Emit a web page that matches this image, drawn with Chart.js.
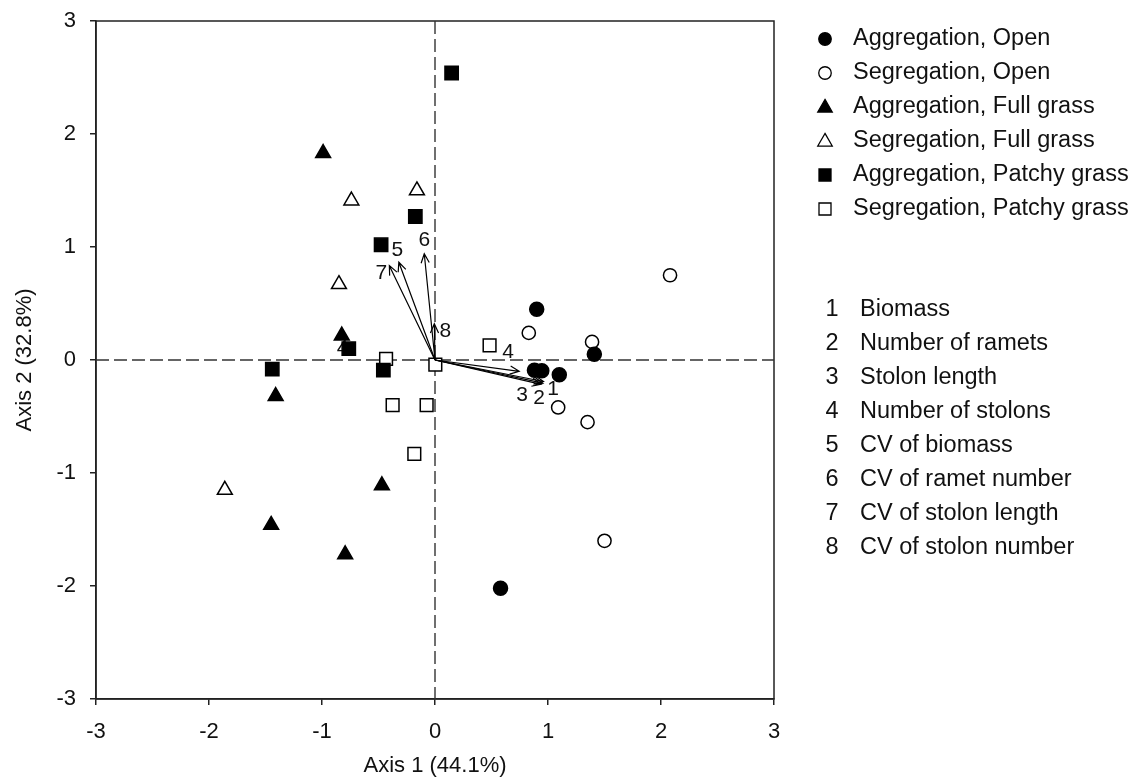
<!DOCTYPE html>
<html><head><meta charset="utf-8">
<script src="https://cdn.jsdelivr.net/npm/chart.js@4/dist/chart.umd.min.js"></script>
<style>html,body{margin:0;padding:0;background:#fff;} #wrap{width:1135px;height:779px;position:relative;}</style>
</head><body><div id="wrap"><canvas id="c"></canvas></div>
<script>
// ---- data ----
const xTicks = [-3, -2, -1, 0, 1, 2, 3];
const yTicks = [-3, -2, -1, 0, 1, 2, 3];
const xTitle = 'Axis 1 (44.1%)';
const yTitle = 'Axis 2 (32.8%)';
const seriesNames = ['Aggregation, Open', 'Segregation, Open', 'Aggregation, Full grass',
  'Segregation, Full grass', 'Aggregation, Patchy grass', 'Segregation, Patchy grass'];
const aggOpen = [[0.90, 0.45], [1.41, 0.05], [0.88, -0.09], [0.945, -0.095], [1.10, -0.13], [0.58, -2.02]];
const segOpen = [[2.08, 0.75], [0.83, 0.24], [1.39, 0.16], [1.09, -0.42], [1.35, -0.55], [1.50, -1.60]];
const aggFull = [[-0.99, 1.83], [-0.825, 0.215], [-1.41, -0.32], [-0.47, -1.11], [-1.45, -1.46], [-0.795, -1.72]];
const segFull = [[-0.74, 1.41], [-0.16, 1.50], [-0.85, 0.67], [-1.86, -1.15]];
const aggPatchy = [[0.147, 2.54], [-0.174, 1.27], [-0.477, 1.02], [-0.763, 0.10], [-1.44, -0.08], [-0.457, -0.09]];
const segPatchy = [[-0.433, 0.01], [0.003, -0.04], [-0.375, -0.40], [-0.074, -0.40], [-0.183, -0.83], [0.483, 0.13]];
const variableNums = ['1', '2', '3', '4', '5', '6', '7', '8'];
const variableNames = ['Biomass', 'Number of ramets', 'Stolon length', 'Number of stolons',
  'CV of biomass', 'CV of ramet number', 'CV of stolon length', 'CV of stolon number'];
const loadingX = [0.96, 0.955, 0.94, 0.745, -0.32, -0.095, -0.404, -0.006];
const loadingY = [-0.19, -0.205, -0.215, -0.10, 0.865, 0.94, 0.835, 0.32];
const loadingLabelX = [1.045, 0.921, 0.771, 0.647, -0.333, -0.095, -0.474, 0.091];
const loadingLabelY = [-0.257, -0.336, -0.310, 0.071, 0.973, 1.062, 0.770, 0.257];
const strayLabel = ['4', -0.818, 0.106];

// ---- styles ----
const FONT = "Arial, 'Liberation Sans', sans-serif";
const INK = '#111';
const markerStyles = [
  {style: 'circle', r: 7, fill: '#000'},
  {style: 'circle', r: 6.6, fill: '#fff'},
  {style: 'triangle', r: 8.6, fill: '#000'},
  {style: 'triangle', r: 8.6, fill: '#fff'},
  {style: 'rect', r: 9.4, fill: '#000'},
  {style: 'rect', r: 9.0, fill: '#fff'}
];
const seriesData = [aggOpen, segOpen, aggFull, segFull, aggPatchy, segPatchy];

const datasets = seriesData.map((arr, i) => ({
  label: seriesNames[i],
  data: arr.map(p => ({x: p[0], y: p[1]})),
  pointStyle: markerStyles[i].style,
  pointRadius: markerStyles[i].r,
  pointHoverRadius: markerStyles[i].r,
  backgroundColor: markerStyles[i].fill,
  borderColor: '#000',
  pointBorderWidth: 1.5,
  showLine: false
}));

function drawMarker(ctx, style, x, y, size, fill) {
  ctx.save();
  ctx.beginPath();
  if (style === 'circle') {
    ctx.arc(x, y, size / 2, 0, Math.PI * 2);
  } else if (style === 'triangle') {
    const h = size * 0.87;
    ctx.moveTo(x, y - h * 0.6);
    ctx.lineTo(x + size / 2, y + h * 0.4);
    ctx.lineTo(x - size / 2, y + h * 0.4);
    ctx.closePath();
  } else {
    ctx.rect(x - size / 2, y - size / 2, size, size);
  }
  ctx.fillStyle = fill;
  ctx.fill();
  ctx.lineWidth = 1.3;
  ctx.strokeStyle = '#000';
  ctx.stroke();
  ctx.restore();
}

const decor = {
  id: 'decor',
  beforeDatasetsDraw(chart) {
    const {ctx, chartArea: a, scales: {x, y}} = chart;
    ctx.save();
    ctx.strokeStyle = '#222';
    ctx.lineWidth = 1.5;
    ctx.strokeRect(a.left, a.top, a.right - a.left, a.bottom - a.top);
    ctx.setLineDash([13, 5]);
    ctx.strokeStyle = '#333';
    ctx.lineWidth = 1.4;
    const x0 = x.getPixelForValue(0), y0 = y.getPixelForValue(0);
    ctx.beginPath();
    ctx.moveTo(x0, a.top); ctx.lineTo(x0, a.bottom);
    ctx.moveTo(a.left, y0); ctx.lineTo(a.right, y0);
    ctx.stroke();
    ctx.setLineDash([]);
    ctx.fillStyle = INK;
    ctx.font = '21px ' + FONT;
    ctx.textAlign = 'center';
    ctx.textBaseline = 'middle';
    ctx.fillText(strayLabel[0], x.getPixelForValue(strayLabel[1]), y.getPixelForValue(strayLabel[2]));
    ctx.restore();
  },
  afterDatasetsDraw(chart) {
    const {ctx, scales: {x, y}} = chart;
    ctx.save();
    const ox = x.getPixelForValue(0), oy = y.getPixelForValue(0);
    ctx.strokeStyle = '#000';
    ctx.lineWidth = 1.2;
    for (let i = 0; i < loadingX.length; i++) {
      const tx = x.getPixelForValue(loadingX[i]), ty = y.getPixelForValue(loadingY[i]);
      const ang = Math.atan2(ty - oy, tx - ox);
      const hl = 10, ha = 0.42;
      ctx.beginPath();
      ctx.moveTo(ox, oy); ctx.lineTo(tx, ty);
      ctx.moveTo(tx - hl * Math.cos(ang - ha), ty - hl * Math.sin(ang - ha));
      ctx.lineTo(tx, ty);
      ctx.lineTo(tx - hl * Math.cos(ang + ha), ty - hl * Math.sin(ang + ha));
      ctx.stroke();
    }
    ctx.fillStyle = INK;
    ctx.font = '21px ' + FONT;
    ctx.textAlign = 'center';
    ctx.textBaseline = 'middle';
    for (let i = 0; i < variableNums.length; i++) {
      ctx.fillText(variableNums[i], x.getPixelForValue(loadingLabelX[i]), y.getPixelForValue(loadingLabelY[i]));
    }
    ctx.textAlign = 'left';
    ctx.font = '23.5px ' + FONT;
    const legSizes = [12.5, 12.5, 14.5, 14.5, 12, 12];
    for (let i = 0; i < seriesNames.length; i++) {
      const ly = 39 + i * 34;
      drawMarker(ctx, markerStyles[i].style, 825, ly, legSizes[i], markerStyles[i].fill);
      ctx.fillStyle = INK;
      ctx.fillText(seriesNames[i], 853, ly);
    }
    for (let i = 0; i < variableNames.length; i++) {
      const ly = 310 + i * 34;
      ctx.textAlign = 'center';
      ctx.fillText(variableNums[i], 832, ly);
      ctx.textAlign = 'left';
      ctx.fillText(variableNames[i], 860, ly);
    }
    ctx.restore();
  }
};

new Chart(document.getElementById('c'), {
  type: 'scatter',
  data: {datasets},
  options: {
    responsive: true,
    maintainAspectRatio: false,
    animation: false,
    events: [],
    layout: {padding: {left: 0, right: 361, top: 21, bottom: 0}},
    plugins: {legend: {display: false}, tooltip: {enabled: false}},
    scales: {
      x: {
        type: 'linear', min: -3, max: 3,
        afterBuildTicks: s => { s.ticks = xTicks.map(v => ({value: v})); },
        afterFit: s => { s.height = 80; s.paddingLeft = 0; s.paddingRight = 0; },
        grid: {display: true, drawOnChartArea: false, drawTicks: true, tickLength: 6, color: '#222', lineWidth: 1.5},
        border: {display: true, color: '#222', width: 1.5},
        ticks: {font: {family: FONT, size: 22}, color: INK, padding: 14, maxRotation: 0},
        title: {display: true, text: xTitle, font: {family: FONT, size: 22}, color: INK, padding: {top: 0, bottom: 0}}
      },
      y: {
        type: 'linear', min: -3, max: 3,
        afterBuildTicks: s => { s.ticks = yTicks.map(v => ({value: v})); },
        afterFit: s => { s.width = 96; s.paddingTop = 0; s.paddingBottom = 0; },
        grid: {display: true, drawOnChartArea: false, drawTicks: true, tickLength: 6, color: '#222', lineWidth: 1.5},
        border: {display: true, color: '#222', width: 1.5},
        ticks: {font: {family: FONT, size: 22}, color: INK, padding: 14},
        title: {display: true, text: yTitle, font: {family: FONT, size: 22}, color: INK, padding: {top: 12, bottom: 0}}
      }
    }
  },
  plugins: [decor]
});
</script>
</body></html>
